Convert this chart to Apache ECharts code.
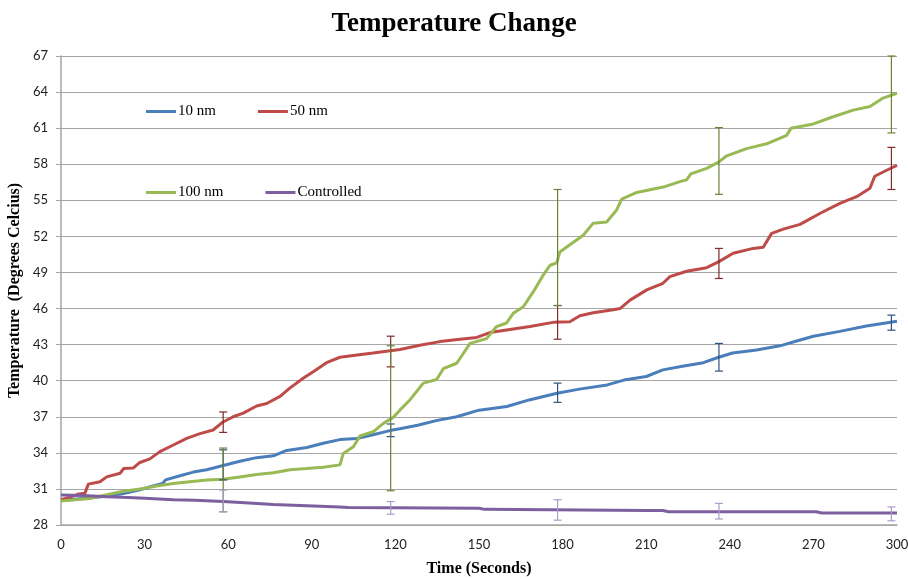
<!DOCTYPE html>
<html>
<head>
<meta charset="utf-8">
<script src="https://cdn.jsdelivr.net/npm/echarts@6/dist/echarts.min.js"></script>
<style>html,body{margin:0;padding:0;background:#fff}#chart{width:908px;height:579px}</style>
</head>
<body>
<div id="chart"></div>
<script>
// ---- Data ----
const xTicks = [0, 30, 60, 90, 120, 150, 180, 210, 240, 270, 300];
const yTicks = [28, 31, 34, 37, 40, 43, 46, 49, 52, 55, 58, 61, 64, 67];
const seriesNames = ['10 nm', '50 nm', '100 nm', 'Controlled'];

const t10 = [0, 10, 16, 22, 28, 33, 36.5, 37.5, 42.7, 47.5, 52.3, 58.2, 64.2, 70.2, 76.2, 81, 88.2, 94.1, 100.1, 106.1, 112, 118, 121.6, 128, 135, 142, 150, 160, 168, 178, 186, 196, 202, 210, 216, 223, 230.5, 236, 241, 249.6, 258, 264, 270, 279.5, 289, 300];
const v10 = [30.05, 30.25, 30.4, 30.6, 30.9, 31.25, 31.45, 31.75, 32.1, 32.4, 32.6, 32.95, 33.3, 33.6, 33.75, 34.2, 34.45, 34.8, 35.1, 35.2, 35.5, 35.85, 36.0, 36.3, 36.7, 37.0, 37.55, 37.85, 38.4, 38.95, 39.3, 39.65, 40.05, 40.35, 40.9, 41.2, 41.5, 41.95, 42.3, 42.55, 42.9, 43.3, 43.7, 44.1, 44.55, 44.95];

const t50 = [0, 3, 6, 8.6, 9.8, 14, 16.4, 21.2, 22.5, 26, 28.3, 31.9, 35.5, 40.3, 45.1, 49.9, 54.6, 57.7, 61.8, 65.4, 70.2, 73.8, 78.6, 82.2, 86.9, 90.5, 95.3, 100.1, 104.9, 112, 121.6, 128.8, 136, 143.2, 149.2, 153.9, 162.3, 168.3, 176.6, 182.6, 186.2, 191, 198.2, 200.6, 204.2, 210.2, 216, 218.5, 224.5, 231.7, 236.1, 241.2, 248.4, 252, 255, 259.2, 265.2, 272.3, 279.5, 285.5, 290.3, 292, 296.3, 300];
const v50 = [30.1, 30.3, 30.55, 30.65, 31.4, 31.6, 32.0, 32.3, 32.7, 32.75, 33.2, 33.5, 34.1, 34.65, 35.2, 35.6, 35.9, 36.5, 37.0, 37.3, 37.9, 38.1, 38.7, 39.4, 40.2, 40.75, 41.5, 41.95, 42.1, 42.3, 42.6, 42.95, 43.25, 43.45, 43.6, 44.0, 44.3, 44.5, 44.85, 44.9, 45.4, 45.65, 45.9, 46.0, 46.7, 47.55, 48.1, 48.65, 49.1, 49.4, 49.9, 50.6, 51.0, 51.1, 52.25, 52.6, 53.0, 53.9, 54.75, 55.3, 56.0, 57.0, 57.5, 57.9];

const t100 = [0, 10.4, 16, 22.4, 28.3, 34.3, 40.3, 46.3, 52.3, 58.2, 64.2, 70.2, 76.2, 82.2, 88.2, 94.1, 100.1, 101.3, 104.9, 107.3, 112, 115.7, 119.2, 121.6, 125.2, 130, 134.8, 137.2, 142, 146.8, 152.7, 156.3, 159.9, 162.3, 165.9, 169.5, 173.1, 175.5, 177.9, 179, 182.6, 187.4, 191, 195.8, 199.4, 201.2, 206.6, 216.1, 222.1, 224.5, 226, 231.7, 236.1, 238.9, 246, 253.2, 260.4, 262, 270, 277.1, 284.3, 290.3, 295, 300];
const v100 = [30.0, 30.2, 30.5, 30.8, 31.0, 31.25, 31.45, 31.6, 31.75, 31.8, 32.0, 32.2, 32.35, 32.6, 32.7, 32.8, 33.0, 33.95, 34.5, 35.4, 35.75, 36.45, 36.95, 37.55, 38.4, 39.8, 40.1, 41.0, 41.45, 43.1, 43.5, 44.5, 44.8, 45.6, 46.15, 47.4, 48.8, 49.6, 49.8, 50.7, 51.3, 52.1, 53.1, 53.2, 54.2, 55.1, 55.65, 56.1, 56.55, 56.7, 57.2, 57.65, 58.2, 58.7, 59.3, 59.7, 60.4, 61.0, 61.35, 61.95, 62.5, 62.8, 63.5, 63.9];

const tCtrl = [0, 8, 16.4, 22, 28.3, 40.3, 48, 58.2, 66, 76.2, 88.2, 100, 103, 150, 152, 210, 216, 218, 271, 273, 300];
const vCtrl = [30.5, 30.45, 30.35, 30.3, 30.25, 30.1, 30.05, 29.95, 29.85, 29.7, 29.6, 29.5, 29.45, 29.4, 29.3, 29.2, 29.2, 29.1, 29.1, 29.0, 29.0];

// error bars: time, low, high
const errT = [58.2, 118.3, 178.2, 236.1, 298];
const err10Low = [31.75, 35.35, 38.2, 40.8, 44.2];
const err10High = [34.25, 36.4, 39.8, 43.1, 45.45];
const err50Low = [35.7, 41.15, 43.45, 48.5, 55.9];
const err50High = [37.4, 43.7, 46.25, 51.0, 59.4];
const err100Low = [29.1, 30.85, 46.25, 55.5, 60.6];
const err100High = [34.4, 42.9, 55.9, 61.05, 67.0];
const errCtrlLow = [29.1, 28.9, 28.4, 28.5, 28.35];
const errCtrlHigh = [30.9, 29.95, 30.1, 29.8, 29.5];

// ---- Build ----
const colors = ['#4A7EBB', '#BE4B48', '#98B954', '#7D5FA0'];
const errColors = ['#2C5182', '#7F2B29', '#6B8236', '#AE9BCB'];
const zip = (a, b) => a.map((x, i) => [x, b[i]]);
const lineData = [zip(t10, v10), zip(t50, v50), zip(t100, v100), zip(tCtrl, vCtrl)];
const errLows = [err10Low, err50Low, err100Low, errCtrlLow];
const errHighs = [err10High, err50High, err100High, errCtrlHigh];

const lineSeries = seriesNames.map((n, i) => ({
  name: n, type: 'line', data: lineData[i], showSymbol: false, symbol: 'none',
  lineStyle: { width: 3, color: colors[i] }, itemStyle: { color: colors[i] },
  z: 2, animation: false
}));

const errSeries = seriesNames.map((n, i) => ({
  name: n + ' error', type: 'custom', z: 3, animation: false,
  data: errT.map((t, k) => [t, errLows[i][k], errHighs[i][k]]),
  renderItem: function (params, api) {
    const lo = api.coord([api.value(0), api.value(1)]);
    const hi = api.coord([api.value(0), api.value(2)]);
    const w = 4;
    const st = { stroke: errColors[i], lineWidth: 1.2 };
    return { type: 'group', children: [
      { type: 'line', shape: { x1: hi[0], y1: hi[1], x2: lo[0], y2: lo[1] }, style: st },
      { type: 'line', shape: { x1: hi[0] - w, y1: hi[1], x2: hi[0] + w, y2: hi[1] }, style: st },
      { type: 'line', shape: { x1: lo[0] - w, y1: lo[1], x2: lo[0] + w, y2: lo[1] }, style: st }
    ]};
  }
}));

const serif = '"Liberation Serif", "Times New Roman", serif';
const gridGray = '#A6A6A6';
const legendCommon = {
  icon: 'rect', itemWidth: 30, itemHeight: 3, itemGap: 42,
  textStyle: { fontFamily: serif, fontSize: 15, color: '#000', padding: [0, 0, 0, -3] },
  orient: 'horizontal'
};

const option = {
  animation: false,
  backgroundColor: '#fff',
  title: {
    text: 'Temperature Change', left: 'center', top: 6,
    textStyle: { fontFamily: serif, fontSize: 27, fontWeight: 'bold', color: '#000' }
  },
  legend: [
    Object.assign({}, legendCommon, { data: [seriesNames[0], seriesNames[1]], left: 141, top: 99 }),
    Object.assign({}, legendCommon, { data: [seriesNames[2], seriesNames[3]], left: 141, top: 180 })
  ],
  grid: { left: 61, right: 11, top: 56, bottom: 54, containLabel: false, outerBoundsMode: 'none' },
  xAxis: {
    type: 'value', min: xTicks[0], max: xTicks[xTicks.length - 1], interval: 30,
    name: 'Time (Seconds)', nameLocation: 'middle', nameGap: 36,
    nameTextStyle: { fontFamily: serif, fontSize: 16, fontWeight: 'bold', color: '#000' },
    axisLine: { lineStyle: { color: gridGray, width: 1.5 } },
    axisTick: { show: false },
    splitLine: { show: false },
    axisLabel: { fontFamily: 'Lato, "Open Sans", sans-serif', fontSize: 13, color: '#222', margin: 13 }
  },
  yAxis: {
    type: 'value', min: yTicks[0], max: yTicks[yTicks.length - 1], interval: 3,
    name: 'Temperature  (Degrees Celcius)', nameLocation: 'middle', nameGap: 38, nameMoveOverlap: false,
    nameTextStyle: { fontFamily: serif, fontSize: 16, fontWeight: 'bold', color: '#000' },
    axisLine: { show: true, lineStyle: { color: gridGray, width: 1.5 } },
    axisTick: { show: true, length: 5, lineStyle: { color: gridGray } },
    splitLine: { show: true, lineStyle: { color: gridGray, width: 1 } },
    axisLabel: { fontFamily: 'Lato, "Open Sans", sans-serif', fontSize: 13, color: '#222', margin: 13 }
  },
  series: lineSeries.concat(errSeries)
};

const chart = echarts.init(document.getElementById('chart'), null, { renderer: 'canvas' });
chart.setOption(option);
</script>
</body>
</html>
